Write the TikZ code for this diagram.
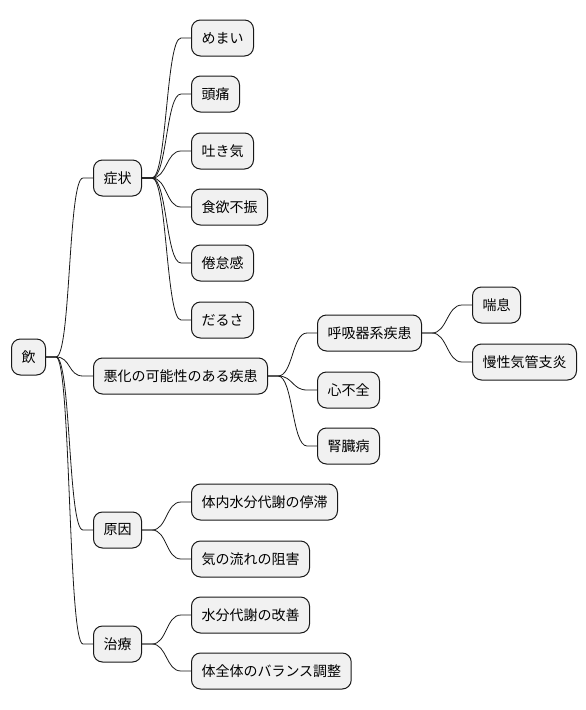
\documentclass[tikz,border=0pt]{standalone}
\usepackage{fontspec}
\newfontfamily\jpfont{Noto Sans CJK JP}
\usepackage{tikz}
\definecolor{boxfill}{HTML}{F1F1F1}
\definecolor{boxline}{HTML}{181818}
\tikzset{idea/.style={draw=boxline,fill=boxfill,rounded corners=9pt,line width=1pt,anchor=west,minimum height=36pt,inner xsep=10pt,font=\jpfont\fontsize{14pt}{16pt}\selectfont}}
\tikzset{link/.style={draw=boxline,line width=0.8pt,to path={-- ++(10pt,0) .. controls +(15pt,0) and ([xshift=-25pt]\tikztotarget) .. ([xshift=-10pt]\tikztotarget) -- (\tikztotarget)}}}

\begin{document}
\begin{tikzpicture}[x=1pt,y=-1pt]
    \useasboundingbox (0,0) rectangle (586,710);
    \node[idea] (yin) at (11,357) {飲};
    \node[idea] (shojo) at (93,178) {症状};
    \node[idea] (akka) at (93,376) {悪化の可能性のある疾患};
    \node[idea] (genin) at (93,530) {原因};
    \node[idea] (chiryo) at (93,644) {治療};

    \node[idea] (memai) at (191,38) {めまい};
    \node[idea] (zutsu) at (191,94) {頭痛};
    \node[idea] (hakike) at (191,151) {吐き気};
    \node[idea] (shokuyoku) at (191,207) {食欲不振};
    \node[idea] (kentai) at (191,263) {倦怠感};
    \node[idea] (darusa) at (191,320) {だるさ};

    \node[idea] (kokyu) at (317,333) {呼吸器系疾患};
    \node[idea] (shinfuzen) at (317,390) {心不全};
    \node[idea] (jinzo) at (317,446) {腎臓病};
    \node[idea] (zensoku) at (472,305) {喘息};
    \node[idea] (mansei) at (472,362) {慢性気管支炎};

    \node[idea] (teitai) at (191,502) {体内水分代謝の停滞};
    \node[idea] (sogai) at (191,559) {気の流れの阻害};
    \node[idea] (kaizen) at (191,615) {水分代謝の改善};
    \node[idea] (chosei) at (191,671) {体全体のバランス調整};

    \draw [link] (yin.east) to (shojo.west);
    \draw [link] (yin.east) to (akka.west);
    \draw [link] (yin.east) to (genin.west);
    \draw [link] (yin.east) to (chiryo.west);
    \draw [link] (shojo.east) to (memai.west);
    \draw [link] (shojo.east) to (zutsu.west);
    \draw [link] (shojo.east) to (hakike.west);
    \draw [link] (shojo.east) to (shokuyoku.west);
    \draw [link] (shojo.east) to (kentai.west);
    \draw [link] (shojo.east) to (darusa.west);
    \draw [link] (akka.east) to (kokyu.west);
    \draw [link] (akka.east) to (shinfuzen.west);
    \draw [link] (akka.east) to (jinzo.west);
    \draw [link] (kokyu.east) to (zensoku.west);
    \draw [link] (kokyu.east) to (mansei.west);
    \draw [link] (genin.east) to (teitai.west);
    \draw [link] (genin.east) to (sogai.west);
    \draw [link] (chiryo.east) to (kaizen.west);
    \draw [link] (chiryo.east) to (chosei.west);
\end{tikzpicture}
\end{document}
